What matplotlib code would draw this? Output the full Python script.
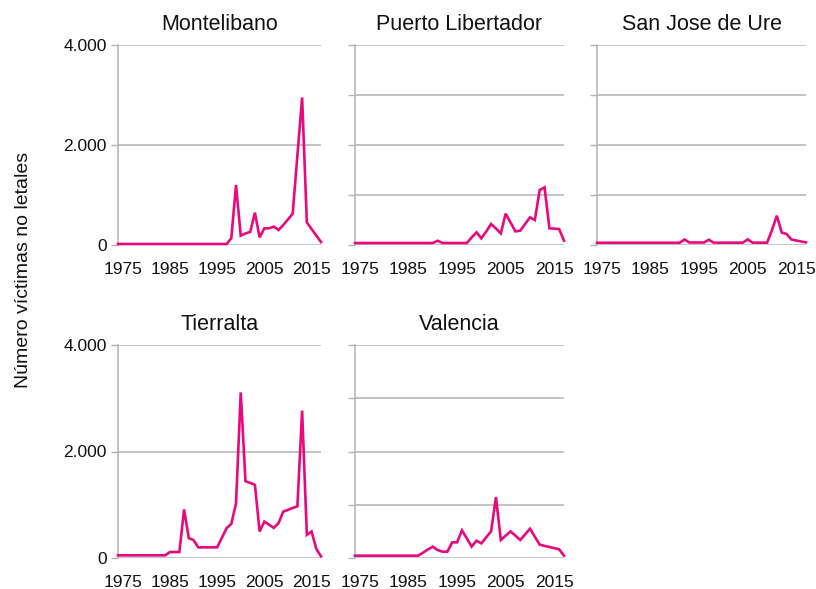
import matplotlib
matplotlib.use("Agg")
import matplotlib.pyplot as plt

# Series anuales 1974-2017 por municipio
years = list(range(1974, 2018))

montelibano = [20] * 24 + [133, 1200, 187, 230, 260, 647, 153, 333, 333, 367, 300, 400,
                           510, 627, 1790, 2950, 453, 320, 190, 60]
puerto_libertador = [40] * 17 + [85, 40, 40, 40, 40, 40, 40, 150, 253, 133, 270, 420, 330,
                                 233, 627, 450, 273, 287, 420, 553, 500, 1100, 1153, 333,
                                 327, 320, 87]
san_jose_de_ure = [45] * 18 + [110, 50, 50, 50, 50, 105, 47, 47, 47, 47, 47, 47, 47, 113,
                               47, 47, 47, 47, 300, 587, 250, 220, 110, 90, 70, 53]
tierralta = [50] * 11 + [112, 112, 112, 913, 373, 336, 200, 200, 200, 200, 200, 380, 560,
                         640, 1026, 3110, 1443, 1410, 1375, 498, 684, 625, 566, 653, 871,
                         905, 940, 970, 2768, 435, 498, 174, 31]
valencia = [44] * 14 + [100, 160, 213, 150, 119, 119, 294, 294, 519, 370, 213, 325, 275,
                        390, 500, 1144, 338, 420, 500, 420, 338, 444, 550, 400, 250, 228,
                        206, 185, 163, 44]

municipios = ["Montelibano", "Puerto Libertador", "San Jose de Ure", "Tierralta", "Valencia"]
series = [montelibano, puerto_libertador, san_jose_de_ure, tierralta, valencia]

x_ticks = [1975, 1985, 1995, 2005, 2015]
y_ticks_left = [0, 2000, 4000]
y_labels_left = ["0", "2.000", "4.000"]
y_ticks_grid = [0, 1000, 2000, 3000, 4000]

W, H = 816, 589
fig = plt.figure(figsize=(W / 100, H / 100), dpi=100)

font = ["Liberation Sans", "DejaVu Sans"]
pink = "#E8097F"
grid_gray = "#b3b3b3"
ink = "#111111"

# posiciones en pixeles: (izq, der, arriba, abajo)
boxes = [
    (118, 321, 45, 245),
    (355, 564, 45, 245),
    (597, 806, 45, 245),
    (118, 321, 345, 558),
    (355, 564, 345, 558),
]

for i, (name, vals, (x0, x1, y0, y1)) in enumerate(zip(municipios, series, boxes)):
    ax = fig.add_axes([x0 / W, 1 - y1 / H, (x1 - x0) / W, (y1 - y0) / H])
    ax.plot(years, vals, color=pink, lw=1.9, solid_joinstyle="miter", zorder=3, clip_on=False)
    ax.set_xlim(1974, 2017)
    ax.set_ylim(0, 4000)

    if i in (0, 3):
        ax.set_yticks(y_ticks_left)
        ax.set_yticklabels(y_labels_left, fontfamily=font, fontsize=12.5)
    else:
        ax.set_yticks(y_ticks_grid)
        ax.set_yticklabels([])
    ax.yaxis.grid(True, color=grid_gray, lw=1.1)
    ax.tick_params(axis="y", length=5, color=grid_gray, width=1, pad=3, labelcolor=ink)

    ax.set_xticks(x_ticks)
    ax.set_xticklabels([str(t) for t in x_ticks], fontfamily=font, fontsize=12.5)
    ax.tick_params(axis="x", length=0, pad=12, labelcolor=ink)

    for s in ["top", "right", "bottom"]:
        ax.spines[s].set_visible(False)
    ax.spines["left"].set_color(grid_gray)
    ax.spines["left"].set_linewidth(1.1)
    ax.set_axisbelow(True)

    ax.set_title(name, fontfamily=font, fontsize=15.5, pad=11, color=ink)

fig.text(24 / W, 1 - 270 / H, "Número víctimas no letales", rotation=90,
         ha="center", va="center", fontfamily=font, fontsize=14, color=ink)

fig.savefig("out.png", dpi=100)
